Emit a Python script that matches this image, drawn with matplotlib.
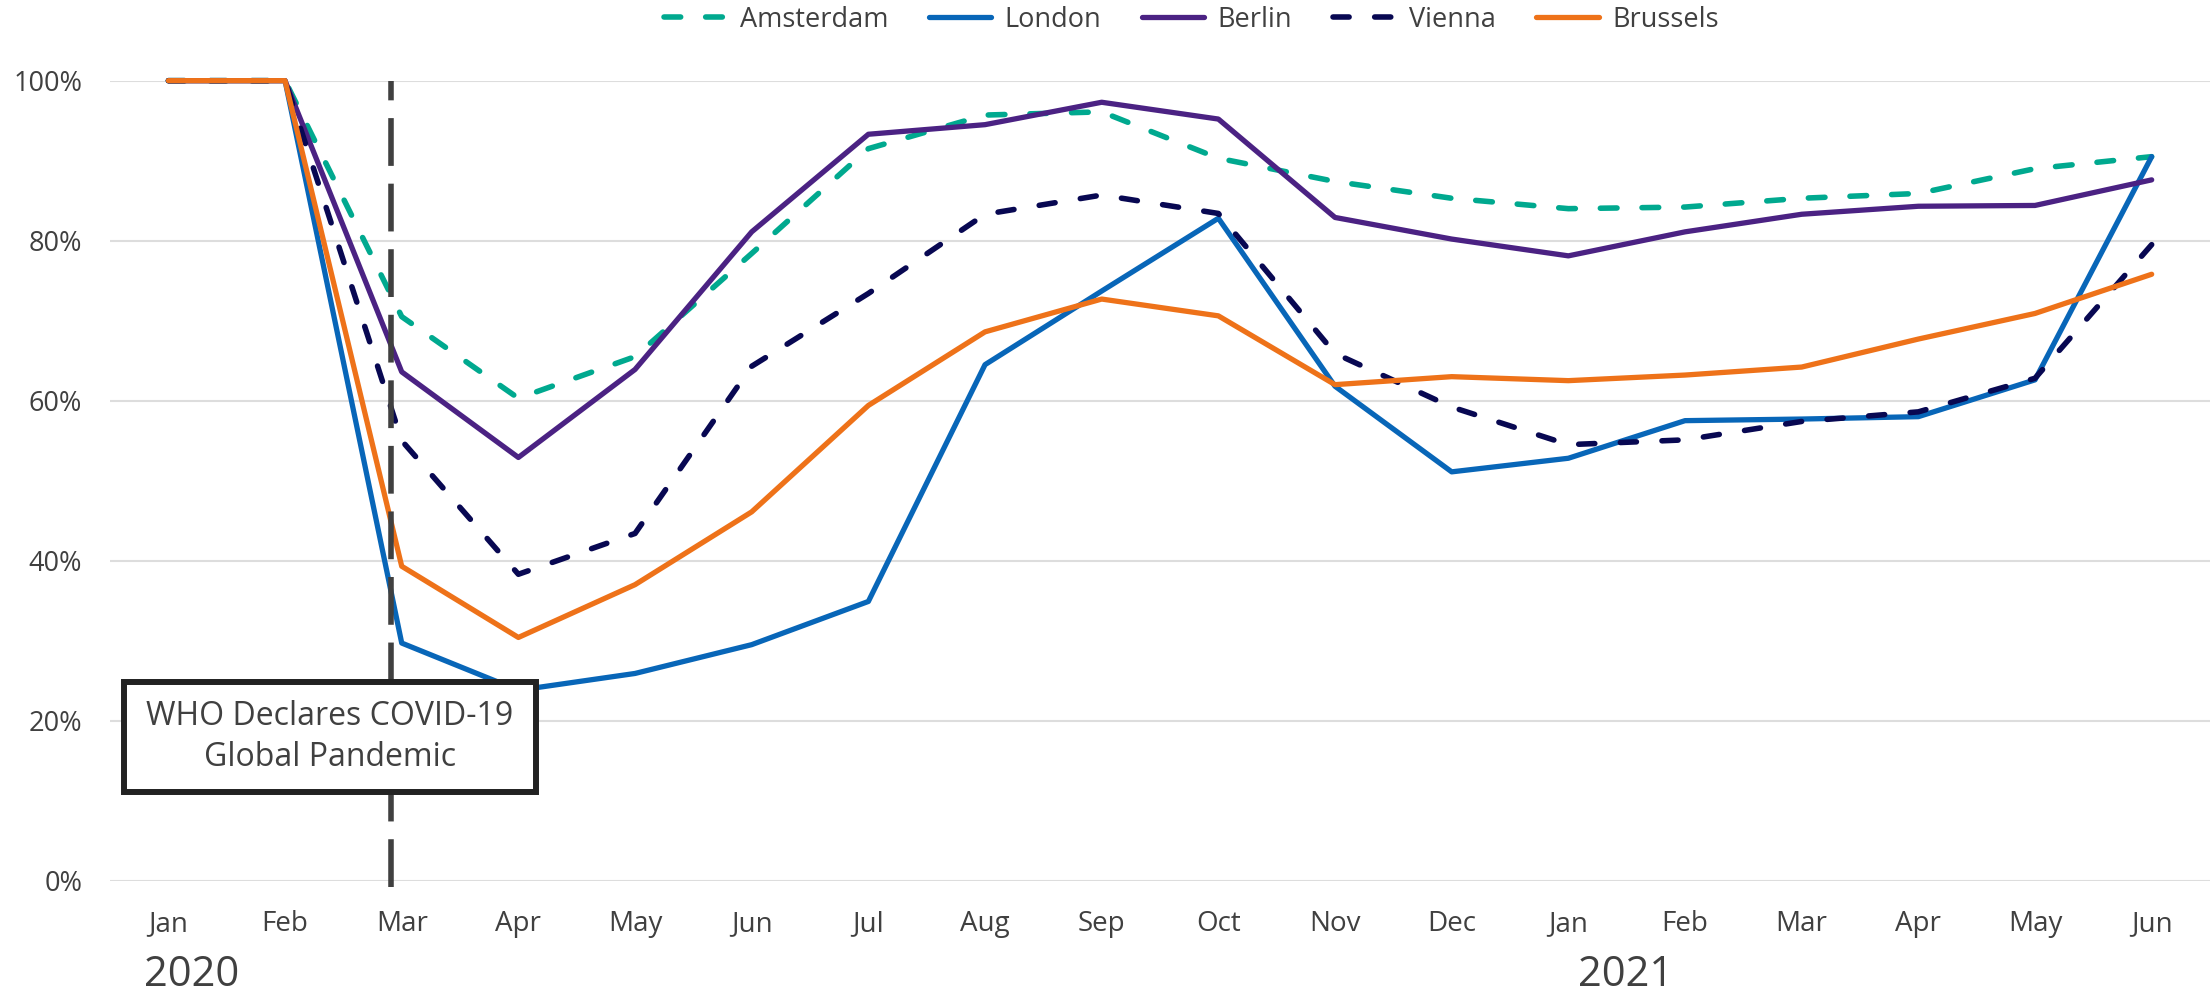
import numpy as np
import matplotlib.pyplot as plt
from matplotlib.patches import Rectangle
from matplotlib.ticker import PercentFormatter

plt.rcParams['font.family'] = ['Open Sans', 'DejaVu Sans']

# dados (fracao do nivel de jan/2020)
months = ['Jan', 'Feb', 'Mar', 'Apr', 'May', 'Jun', 'Jul', 'Aug', 'Sep',
          'Oct', 'Nov', 'Dec', 'Jan', 'Feb', 'Mar', 'Apr', 'May', 'Jun']
amsterdam = [100, 100, 70.5, 60.3, 65.5, 78.4, 91.5, 95.7, 96.1,
             90.3, 87.4, 85.3, 84.0, 84.2, 85.3, 85.9, 89.0, 90.5]
london = [100, 100, 29.7, 23.8, 25.9, 29.5, 34.9, 64.5, 73.7,
          82.8, 61.8, 51.1, 52.8, 57.5, 57.7, 58.0, 62.6, 90.5]
berlin = [100, 100, 63.6, 52.9, 63.9, 81.1, 93.3, 94.5, 97.3,
          95.2, 82.9, 80.2, 78.1, 81.1, 83.3, 84.3, 84.4, 87.6]
vienna = [100, 100, 55.0, 38.3, 43.4, 64.3, 73.4, 83.3, 85.7,
          83.4, 65.9, 59.2, 54.5, 55.1, 57.4, 58.6, 62.8, 79.5]
brussels = [100, 100, 39.3, 30.4, 37.0, 46.1, 59.4, 68.6, 72.7,
            70.6, 62.0, 63.0, 62.5, 63.2, 64.2, 67.7, 70.9, 75.8]
years = ['2020', '2021']
who_x = 1.905  # posicao da linha da OMS (entre Feb e Mar)

x = np.arange(len(months))
gray = '#404040'

fig = plt.figure(figsize=(22.1, 9.97), dpi=100)
ax = fig.add_axes([0.0498, 0.1167, 0.9502, 0.8024])

lw = 3.8      # linhas continuas
lwd = 4.0     # linhas tracejadas
ax.plot(x, np.array(amsterdam) / 100, color='#00A98F', lw=lwd, dashes=(3.0, 4.5),
        dash_capstyle='round', label='Amsterdam', clip_on=False)
ax.plot(x, np.array(london) / 100, color='#0866B8', lw=lw, solid_joinstyle='round',
        solid_capstyle='round', label='London', clip_on=False)
ax.plot(x, np.array(berlin) / 100, color='#4B2283', lw=lw, solid_joinstyle='round',
        solid_capstyle='round', label='Berlin', clip_on=False)
ax.plot(x, np.array(vienna) / 100, color='#080852', lw=lwd, dashes=(2.9, 4.6),
        dash_capstyle='round', label='Vienna', clip_on=False)
ax.plot(x, np.array(brussels) / 100, color='#EE7219', lw=lw, solid_joinstyle='round',
        solid_capstyle='round', label='Brussels', clip_on=False)

# linha vertical tracejada
ax.plot([who_x, who_x], [-0.0079, 1.0], color=gray, lw=4.0,
        linestyle=(0, (8.6, 3.2)), dash_capstyle='butt', zorder=5, clip_on=False)

# caixa de anotacao
ax.add_patch(Rectangle((0.00643, 0.1109), 0.1962, 0.1375, transform=ax.transAxes,
                       facecolor='white', edgecolor='#222222', lw=4.3, zorder=6,
                       clip_on=False))
ax.text(0.1046, 0.1795, 'WHO Declares COVID-19\nGlobal Pandemic', transform=ax.transAxes,
        ha='center', va='center', fontsize=23, color=gray, linespacing=1.3, zorder=7)

ax.set_xlim(-0.5, len(months) - 0.5)
ax.set_ylim(0, 1)
ax.set_xticks(x)
ax.set_xticklabels(months)
ax.set_yticks(np.arange(0, 1.01, 0.2))
ax.yaxis.set_major_formatter(PercentFormatter(1.0, decimals=0))
ax.tick_params(axis='x', length=0, pad=21, labelsize=20, labelcolor=gray)
ax.tick_params(axis='y', length=0, pad=20, labelsize=19.5, labelcolor=gray)
ax.grid(axis='y', color='#DDDDDD', lw=1.5)
ax.set_axisbelow(True)
for s in ax.spines.values():
    s.set_visible(False)

# anos abaixo dos meses
ax.text(-0.21, -0.1316, years[0], transform=ax.get_xaxis_transform(),
        ha='left', va='baseline', fontsize=30, color=gray)
ax.text(12.49, -0.1316, years[1], transform=ax.get_xaxis_transform(),
        ha='center', va='baseline', fontsize=30, color=gray)

fig.legend(loc='center', bbox_to_anchor=(0.539, 0.98), ncol=5, frameon=False,
           fontsize=19.5, handlelength=2.3, handletextpad=0.5, columnspacing=1.5,
           labelcolor=gray)

plt.savefig('out.png', dpi=100)
